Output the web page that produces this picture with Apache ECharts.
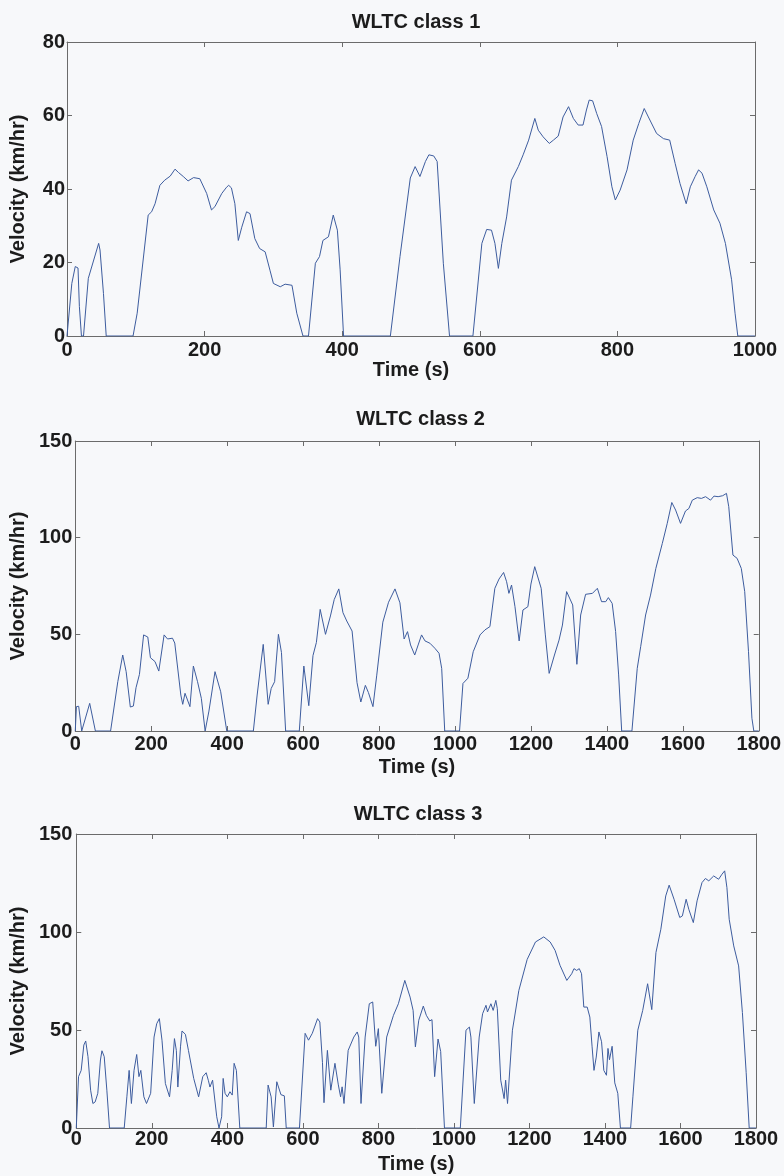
<!DOCTYPE html>
<html>
<head>
<meta charset="utf-8">
<script src="https://cdn.jsdelivr.net/npm/echarts@6/dist/echarts.min.js"></script>
<style>
html,body{margin:0;padding:0;background:#f7f8fa;}
#chart{width:784px;height:1176px;}
</style>
</head>
<body>
<div id="chart"></div>
<script>
// ---- Data ----
const class1Time = [0,7,12,16,18,21,24,31,46,48,53,57,96,102,118,123,128,135,142,150,157,162,169,176,184,193,203,210,215,225,232,235,239,244,249,254,261,266,273,280,288,295,300,310,317,327,334,343,351,361,367,372,380,387,393,397,402,470,484,499,506,513,521,526,533,538,547,556,590,603,610,617,622,627,632,639,646,656,663,671,680,685,692,701,707,714,721,729,736,743,750,755,759,764,770,777,785,792,797,804,814,823,831,839,845,857,867,876,884,891,900,906,913,918,923,930,940,949,957,966,971,975,1000];
const class1Speed = [0,14.3,18.9,18.5,8,0,0,15.7,25.2,23.4,11.6,0,0,6.2,32.9,33.8,36,41,42.4,43.5,45.4,44.5,43.4,42.2,43.1,42.8,38.8,34.3,35.2,38.8,40.5,41,40.3,36,26,29.6,33.8,33.3,26.5,23.8,22.9,17.9,14.3,13.4,14.1,13.8,6.2,0,0,19.8,21.6,26,27,32.9,28.8,18,0,0,21.6,43,46.1,43.4,47.5,49.3,49,47.5,19.8,0,0,25.2,29,28.8,25.2,18.4,25.2,32.4,42.4,46.1,49.3,53.3,59.2,56,54.2,52.4,53.3,54.4,59.6,62.4,59.2,57.4,57.4,61.5,64.2,64,60.5,57,48.8,40.6,37,39.7,45.2,53.3,57.8,61.9,59.6,55.1,53.7,53.3,46.9,41.5,36,40.6,43.4,45.2,44.3,40.6,34.3,30.7,25.2,15.3,6.2,0,0];

const class2Time = [0,3,9,17,20,38,53,93,112,125,134,145,153,160,169,180,191,198,210,220,234,243,256,262,278,283,289,294,302,311,322,332,342,352,368,383,399,469,479,495,508,516,525,535,543,554,590,602,615,626,635,645,659,672,682,694,705,715,729,742,752,764,772,784,794,810,825,842,855,866,875,883,894,903,912,921,934,947,958,965,973,1012,1021,1034,1048,1066,1079,1092,1105,1116,1128,1136,1142,1149,1158,1169,1179,1192,1200,1210,1227,1238,1248,1262,1274,1283,1294,1310,1321,1331,1344,1362,1375,1386,1397,1404,1414,1423,1431,1439,1466,1480,1489,1502,1515,1529,1546,1559,1571,1581,1594,1607,1616,1625,1638,1649,1660,1673,1682,1693,1705,1715,1721,1732,1743,1754,1763,1773,1782,1787,1800];
const class2Speed = [0,12.6,12.8,0,0,14.3,0,0,25.5,39.3,30.7,12.4,12.9,22.4,29.3,49.7,48.6,37.9,35.9,31,49.7,47.6,48,45.5,18.6,13.8,19.5,20.3,12.6,33.6,25.5,16.9,0,10.3,30.7,20.3,0,0,18.6,44.8,13.8,22,25.5,50,40.6,0,0,33.6,13.1,39,45.8,62.9,50,59.5,68,73.5,61.2,56.9,51.7,25,15,23.6,19.9,12.6,28.9,56.3,66.6,73.5,66.3,47.6,51.4,44.5,39.3,44.5,49.7,46.6,45.4,42.8,40.2,32.4,0,0,24.6,27.3,41,49.7,52.3,54,73.8,78.6,82,77.2,71.2,75.5,64.3,46.6,62.6,64.3,76,85,73.8,49.7,29.8,39.3,47,54.8,72.1,65.2,34.5,60,70.7,71.2,73.8,66.9,66.9,69,66,51.5,29,0,0,32.4,43.6,60,70.3,84.1,97,107.4,118.2,114.3,107.4,113.8,115.1,119.4,120.7,120.3,121.2,119.4,121.5,121.2,121.7,122.9,116,91,89.3,84.1,72.1,41,6.6,0,0];

const class3Time = [0,6,13,20,25,31,38,44,50,57,64,68,74,81,88,127,134,140,146,153,160,166,171,179,186,197,206,213,220,227,236,247,254,260,265,269,276,280,289,297,311,324,335,344,350,354,361,372,378,385,389,394,400,407,413,418,424,433,503,508,516,522,531,542,551,556,591,606,615,625,639,645,652,656,665,674,685,694,700,704,709,720,735,744,748,754,765,776,785,793,800,809,822,840,853,870,884,892,898,907,919,927,936,942,949,958,965,975,1017,1032,1041,1045,1054,1067,1076,1085,1089,1098,1104,1111,1115,1124,1133,1137,1142,1155,1172,1194,1216,1238,1255,1268,1281,1299,1312,1318,1325,1332,1338,1344,1353,1360,1366,1371,1377,1384,1391,1397,1404,1408,1412,1419,1426,1434,1441,1468,1474,1487,1500,1513,1524,1535,1548,1561,1570,1583,1598,1605,1615,1622,1634,1644,1657,1666,1675,1688,1701,1710,1717,1723,1729,1741,1754,1764,1774,1782,1800];
const class3Speed = [0,26.2,29.4,42.3,44.4,36.4,19.3,12.5,13.3,17.7,34.7,39.4,36.4,19.3,0,0,15.9,29.4,12.5,29.4,37.5,26.2,29.4,15.9,12.5,17.7,46.4,53.2,55.8,44.8,22.7,15.9,29.4,45.6,39.6,20.9,41.4,49.5,47.8,39.6,25.3,15.9,26.2,28.2,24.1,20.9,24.4,5.7,0,5.7,25.3,17.7,15.9,18.5,16.8,33,29.4,0,0,21.9,15.9,0.5,23.6,17,16.4,0,0,48.3,44.8,48.3,55.8,54.1,33.3,12.9,39.6,19.3,33,22,15.9,21,12.5,39.6,46.4,49,46.4,12.5,46.4,63.4,64.3,41.7,50.7,17.7,46.4,57.5,63.4,75.3,66.8,60,41.4,55,62.2,57.5,54.6,55.3,26.2,45.4,39,0,0,49.9,51.5,46.4,12.5,46.4,58.3,62.6,59.2,63.4,60,65.1,60.9,24.4,15,24.4,12.5,49.9,70.2,86,94.9,97.5,94.9,90.6,83,75.3,78.7,81.3,80.4,81.3,78.7,61.7,61.7,56.6,41.4,29.4,36.2,49,44,29.4,26.9,40.6,34.8,41.7,23,17.7,0,0,15.9,49.9,60,73.6,60.4,89.5,101.4,118.4,123.9,116.7,107.4,108.2,116.7,111.6,104.8,115.9,125.2,127.3,126.1,128.6,126.9,129.5,131.2,122.6,106.5,92.9,82.7,58.9,28.2,0,0];

const titles = ['WLTC class 1', 'WLTC class 2', 'WLTC class 3'];
const xMax = [1000, 1800, 1800];
const yMax = [80, 150, 150];
const yStep = [20, 50, 50];
const xStep = 200;
const xName = 'Time (s)';
const yName = 'Velocity (km/hr)';

// ---- Layout / style ----
const FONT = "'Liberation Sans', Arial, sans-serif";
const TXT = '#1c1c1c';
const AX = '#6b6b6b';
const LINE = '#3d5c9e';
const grids = [
  {left: 67, top: 42, width: 688, height: 294},
  {left: 72, top: 441, width: 687, height: 290},
  {left: 70, top: 834, width: 686, height: 294}
];
const titleY = [7, 404, 799];
const xNameGap = [24, 26, 26];
const yNameGap = [39, 44, 40];
const xLabelMargin = [4, 3, 1];
const yLabelMargin = [2, 3, 4];

const pairs = (t, v) => t.map((x, i) => [x, v[i]]);
const seriesData = [pairs(class1Time, class1Speed), pairs(class2Time, class2Speed), pairs(class3Time, class3Speed)];

const lbl = {fontFamily: FONT, fontWeight: 'bold', fontSize: 20, color: TXT};
const plain = v => String(v);
const xAxes = [], yAxes = [], series = [], title = [];
for (let i = 0; i < 3; i++) {
  const g = grids[i];
  title.push({
    text: titles[i], left: g.left + g.width / 2, top: titleY[i], textAlign: 'center',
    textStyle: {fontFamily: FONT, fontWeight: 'bold', fontSize: 20, color: TXT}
  });
  const common = {
    gridIndex: i, type: 'value', min: 0, max: xMax[i], interval: xStep,
    axisLine: {show: true, onZero: false, lineStyle: {color: AX, width: 1}},
    axisTick: {show: true, inside: true, length: 5, lineStyle: {color: AX}},
    splitLine: {show: false}
  };
  xAxes.push(Object.assign({}, common, {
    position: 'bottom',
    axisLabel: Object.assign({margin: xLabelMargin[i], formatter: plain}, lbl),
    name: xName, nameLocation: 'middle', nameGap: xNameGap[i], nameTextStyle: lbl
  }));
  xAxes.push(Object.assign({}, common, {position: 'top', axisLabel: {show: false}}));
  const ycommon = {
    gridIndex: i, type: 'value', min: 0, max: yMax[i], interval: yStep[i],
    axisLine: {show: true, onZero: false, lineStyle: {color: AX, width: 1}},
    axisTick: {show: true, inside: true, length: 5, lineStyle: {color: AX}},
    splitLine: {show: false}
  };
  yAxes.push(Object.assign({}, ycommon, {
    position: 'left',
    axisLabel: Object.assign({margin: yLabelMargin[i], formatter: plain}, lbl),
    name: yName, nameLocation: 'middle', nameGap: yNameGap[i], nameRotate: 90, nameTextStyle: lbl
  }));
  yAxes.push(Object.assign({}, ycommon, {position: 'right', axisLabel: {show: false}}));
  series.push({
    type: 'line', xAxisIndex: 2 * i, yAxisIndex: 2 * i, data: seriesData[i],
    showSymbol: false, symbol: 'none', clip: true,
    lineStyle: {color: LINE, width: 1}
  });
}

const chart = echarts.init(document.getElementById('chart'), null, {renderer: 'canvas'});
chart.setOption({
  backgroundColor: '#f7f8fa',
  animation: false,
  title: title,
  grid: grids,
  xAxis: xAxes,
  yAxis: yAxes,
  series: series
});
</script>
</body>
</html>
